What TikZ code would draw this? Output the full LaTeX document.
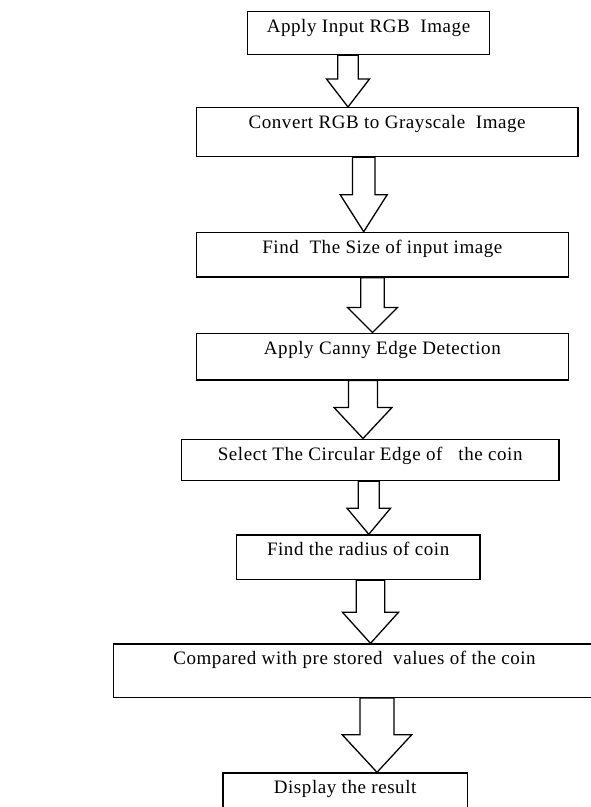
\documentclass[tikz,border=0pt]{standalone}
\usepackage{fontspec}
\setmainfont{Liberation Serif}[LetterSpace=3]
\usepackage{tikz}
\usetikzlibrary{shapes.geometric, arrows}
\tikzstyle{process} = [rectangle, draw, line width=1.3pt, fill=white, anchor=north west, inner xsep=0pt, inner ysep=0pt, text height=21pt, align=center, font=\fontsize{19}{21}\selectfont]
\tikzstyle{blockarrow} = [draw, line width=1.3pt, fill=white, line join=miter]

% block arrow: from, to, x of centre, half shaft, half head, head length
\newcommand{\blockarrow}[6]{%
\draw [blockarrow] (#3,0 |- #2.north) coordinate (tip) -- ++(-#5,-#6) coordinate (wl) -- ++(#5-#4,0)
	-- (#3-#4,0 |- #1.south) -- (#3+#4,0 |- #1.south) -- (#3+#4,0 |- wl) -- ++(#5-#4,0) -- cycle;}

\begin{document}
\begin{tikzpicture}[x=1pt, y=-1pt]

\useasboundingbox (0,0) rectangle (591,807);
\clip (0,0) rectangle (591,807);

\node (start)	[process, minimum width=242.3, text depth=22.3] at (246.7,10.7)	{Apply Input RGB\ \ Image};
\node (pro1)	[process, minimum width=381.6, text depth=28] at (195.7,107)	{Convert RGB to Grayscale\ \ Image};
\node (pro2)	[process, minimum width=372, text depth=23.6] at (195.7,231.7)	{Find\ \ The Size of input image};
\node (pro3)	[process, minimum width=372, text depth=25.7] at (195.7,332.5)	{Apply Canny Edge Detection};
\node (pro4)	[process, minimum width=377.6, text depth=20.5] at (180.7,438.5)	{Select The Circular Edge of\ \ \ the coin};
\node (pro5)	[process, minimum width=243.6, text depth=23.7] at (235.7,534.3)	{Find the radius of coin};
\node (pro6)	[process, minimum width=482.3, text depth=32.4] at (112.7,643.3)	{Compared with pre stored\ \ values of the coin};
\node (stop)	[process, minimum width=244.4, text depth=24] at (222.3,772.3)	{Display the result};

\blockarrow{start}{pro1}{348}{10.3}{21.5}{28}
\blockarrow{pro1}{pro2}{363.7}{11.3}{23.5}{37}
\blockarrow{pro2}{pro3}{372.5}{11.8}{25}{25}
\blockarrow{pro3}{pro4}{363}{14.5}{29}{31}
\blockarrow{pro4}{pro5}{368.8}{10.5}{21.7}{26}
\blockarrow{pro5}{pro6}{370.5}{14.2}{28}{31}
\blockarrow{pro6}{stop}{377}{17}{34.7}{37.5}

\end{tikzpicture}
\end{document}
